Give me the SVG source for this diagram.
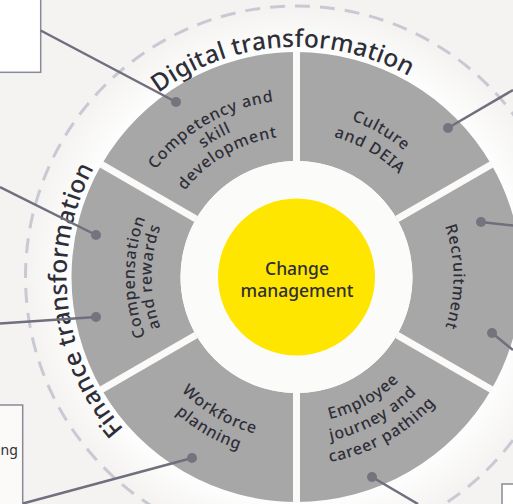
<svg xmlns="http://www.w3.org/2000/svg" width="513" height="504" viewBox="0 0 513 504">
  <style>
    .seg { fill: #a7a7a7; }
    .sep { stroke: #fbfaf9; stroke-width: 7; }
    .lbl { font-family: "Noto Sans", "Open Sans", sans-serif; font-size: 16px; font-weight: 500; letter-spacing: 0.8px; fill: #2e2e38; text-anchor: middle; }
    .title { font-family: "Noto Sans", "Open Sans", sans-serif; font-size: 24.5px; font-weight: 500; letter-spacing: 0.2px; fill: #2e2e38; text-anchor: middle; }
    .core { font-family: "Noto Sans", "Open Sans", sans-serif; font-size: 17.5px; font-weight: 500; fill: #2e2e38; text-anchor: middle; }
    .box { fill: #ffffff; stroke: #8a8a96; stroke-width: 1.5; }
    .wire { stroke: #6f6f7d; stroke-width: 2.5; fill: none; }
    .dot { fill: #74747f; }
  </style>
  <defs>
    <radialGradient id="halo" cx="296.5" cy="277" r="285" gradientUnits="userSpaceOnUse">
      <stop offset="0.78" stop-color="#ffffff" stop-opacity="0.95"/>
      <stop offset="0.95" stop-color="#ffffff" stop-opacity="0"/>
    </radialGradient>
    <!-- clockwise arcs centred on the top of the ring (letters face outward) -->
    <path id="a230" d="M-199.19,-115 A230,230 0 0 1 199.19,-115"/>
    <path id="a177" d="M-153.29,-88.5 A177,177 0 0 1 153.29,-88.5"/>
    <path id="a159" d="M-137.70,-79.5 A159,159 0 0 1 137.70,-79.5"/>
    <path id="a141" d="M-122.11,-70.5 A141,141 0 0 1 122.11,-70.5"/>
    <path id="a166" d="M-143.76,-83 A166,166 0 0 1 143.76,-83"/>
    <path id="a145" d="M-125.57,-72.5 A145,145 0 0 1 125.57,-72.5"/>
    <path id="a157" d="M-135.97,-78.5 A157,157 0 0 1 135.97,-78.5"/>
    <path id="a162" d="M-140.30,-81 A162,162 0 0 1 140.30,-81"/>
    <!-- counter-clockwise arcs centred on the bottom (letters face inward) -->
    <path id="b146" d="M-126.44,73 A146,146 0 0 0 126.44,73"/>
    <path id="b167" d="M-144.63,83.5 A167,167 0 0 0 144.63,83.5"/>
    <path id="b188" d="M-162.81,94 A188,188 0 0 0 162.81,94"/>
    <path id="b162" d="M-140.30,81 A162,162 0 0 0 140.30,81"/>
    <path id="b182" d="M-157.62,91 A182,182 0 0 0 157.62,91"/>
  </defs>

  <!-- backdrop -->
  <rect x="0" y="0" width="513" height="504" fill="#f4f3f1"/>
  <circle cx="296.5" cy="277" r="285" fill="url(#halo)"/>
  <circle cx="296.5" cy="277" r="271" fill="none" stroke="#c9c9d3" stroke-width="3" stroke-dasharray="15 10"/>

  <!-- outer boxes cut by the frame -->
  <g id="box-top-left"><rect class="box" x="-5" y="-5" width="45.7" height="77.3"/></g>
  <g id="box-bottom-left">
    <rect class="box" x="-5" y="405" width="27.7" height="110" fill-opacity="0.6"/>
    <text x="0.5" y="455" font-family="Noto Sans, sans-serif" font-size="14" fill="#2e2e38">ng</text>
  </g>
  <g id="box-bottom-right"><rect class="box" x="502" y="484" width="20" height="30"/></g>

  <!-- ring titles -->
  <g id="title-digital">
    <text class="title" transform="translate(296.5 277) rotate(-3.8)"><textPath href="#a230" startOffset="50%">Digital transformation</textPath></text>
  </g>
  <g id="title-finance">
    <text class="title" transform="translate(296.5 277) rotate(-96.5)"><textPath href="#a230" startOffset="50%">Finance transformation</textPath></text>
  </g>

  <!-- ring segments -->
  <g id="seg-competency">
    <path class="seg" d="M101.64,164.5 A225,225 0 0 1 296.5,52 L296.5,161 A116,116 0 0 0 196.04,219 Z"/>
    <text class="lbl" transform="translate(296.5 277) rotate(-30)"><textPath href="#a177" startOffset="50%">Competency and</textPath></text>
    <text class="lbl" transform="translate(296.5 277) rotate(-30)"><textPath href="#a159" startOffset="50%">skill</textPath></text>
    <text class="lbl" transform="translate(296.5 277) rotate(-30)"><textPath href="#a141" startOffset="50%">development</textPath></text>
  </g>
  <g id="seg-culture">
    <path class="seg" d="M296.5,52 A225,225 0 0 1 491.36,164.5 L396.96,219 A116,116 0 0 0 296.5,161 Z"/>
    <text class="lbl" transform="translate(296.5 277) rotate(30)"><textPath href="#a166" startOffset="50%">Culture</textPath></text>
    <text class="lbl" transform="translate(296.5 277) rotate(30)"><textPath href="#a145" startOffset="50%">and DEIA</textPath></text>
  </g>
  <g id="seg-recruitment">
    <path class="seg" d="M491.36,164.5 A225,225 0 0 1 491.36,389.5 L396.96,335 A116,116 0 0 0 396.96,219 Z"/>
    <text class="lbl" transform="translate(296.5 277) rotate(90)"><textPath href="#a157" startOffset="50%">Recruitment</textPath></text>
  </g>
  <g id="seg-employee">
    <path class="seg" d="M491.36,389.5 A225,225 0 0 1 296.5,502 L296.5,393 A116,116 0 0 0 396.96,335 Z"/>
    <text class="lbl" transform="translate(296.5 277) rotate(-29)"><textPath href="#b146" startOffset="50%">Employee</textPath></text>
    <text class="lbl" transform="translate(296.5 277) rotate(-29)"><textPath href="#b167" startOffset="50%">journey and</textPath></text>
    <text class="lbl" transform="translate(296.5 277) rotate(-29)"><textPath href="#b188" startOffset="50%">career pathing</textPath></text>
  </g>
  <g id="seg-workforce">
    <path class="seg" d="M296.5,502 A225,225 0 0 1 101.64,389.5 L196.04,335 A116,116 0 0 0 296.5,393 Z"/>
    <text class="lbl" transform="translate(296.5 277) rotate(30)"><textPath href="#b162" startOffset="50%">Workforce</textPath></text>
    <text class="lbl" transform="translate(296.5 277) rotate(30)"><textPath href="#b182" startOffset="50%">planning</textPath></text>
  </g>
  <g id="seg-compensation">
    <path class="seg" d="M101.64,389.5 A225,225 0 0 1 101.64,164.5 L196.04,219 A116,116 0 0 0 196.04,335 Z"/>
    <text class="lbl" transform="translate(296.5 277) rotate(-90)"><textPath href="#a162" startOffset="50%">Compensation</textPath></text>
    <text class="lbl" transform="translate(296.5 277) rotate(-90)"><textPath href="#a145" startOffset="50%">and rewards</textPath></text>
  </g>

  <!-- gaps between segments -->
  <g id="separators">
    <line class="sep" x1="296.5" y1="161" x2="296.5" y2="51"/>
    <line class="sep" x1="396.96" y1="219" x2="492.22" y2="164"/>
    <line class="sep" x1="396.96" y1="335" x2="492.22" y2="390"/>
    <line class="sep" x1="296.5" y1="393" x2="296.5" y2="503"/>
    <line class="sep" x1="196.04" y1="335" x2="100.78" y2="390"/>
    <line class="sep" x1="196.04" y1="219" x2="100.78" y2="164"/>
  </g>

  <!-- hub -->
  <g id="hub">
    <circle cx="296.5" cy="277" r="116" fill="#fbfbfa"/>
    <circle cx="296.5" cy="277" r="78.5" fill="#ffe600"/>
    <text class="core" x="297" y="275">Change</text>
    <text class="core" x="297" y="297">management</text>
  </g>

  <!-- leader lines -->
  <g id="connectors">
    <line class="wire" x1="40.7" y1="30.5" x2="176" y2="102"/>
    <line class="wire" x1="0" y1="187" x2="96" y2="235"/>
    <line class="wire" x1="0" y1="323.5" x2="96" y2="317"/>
    <line class="wire" x1="23" y1="503.5" x2="192" y2="458"/>
    <line class="wire" x1="448" y1="128" x2="513" y2="90"/>
    <line class="wire" x1="481" y1="222" x2="513" y2="225.5"/>
    <line class="wire" x1="492" y1="333" x2="513" y2="350"/>
    <line class="wire" x1="372" y1="477" x2="418" y2="504"/>
    <circle class="dot" cx="176" cy="102" r="5"/>
    <circle class="dot" cx="96" cy="235" r="5"/>
    <circle class="dot" cx="96" cy="317" r="5"/>
    <circle class="dot" cx="192" cy="458" r="5"/>
    <circle class="dot" cx="448" cy="128" r="5"/>
    <circle class="dot" cx="481" cy="222" r="5"/>
    <circle class="dot" cx="492" cy="333" r="5"/>
    <circle class="dot" cx="372" cy="477" r="5"/>
  </g>
</svg>
